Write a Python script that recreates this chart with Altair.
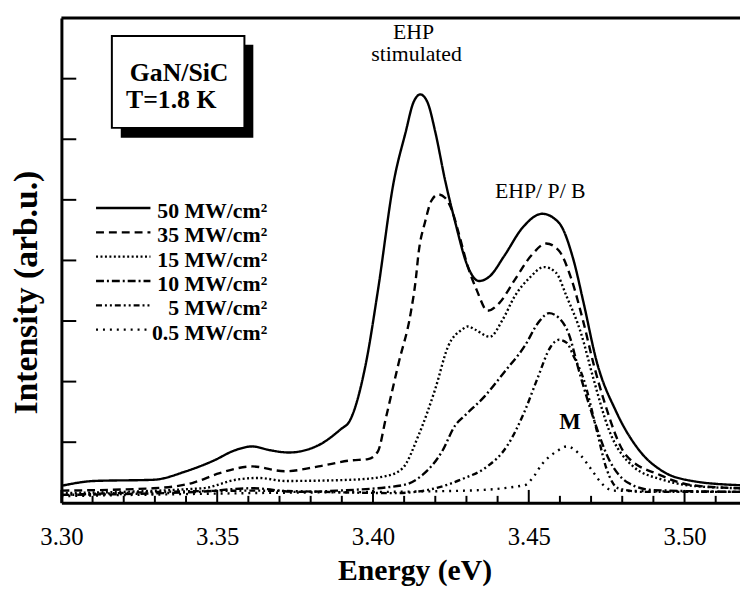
import altair as alt
import pandas as pd

FONT = "Liberation Serif"

SERIES = ["50 MW/cm²", "35 MW/cm²", "15 MW/cm²", "10 MW/cm²", "5 MW/cm²", "0.5 MW/cm²"]

e50 = [3.300, 3.3105, 3.3295, 3.340, 3.3486, 3.3559, 3.3613, 3.3667, 3.373, 3.3825, 3.3898, 3.3924,
       3.3978, 3.4016, 3.4067, 3.4105, 3.413, 3.4152, 3.4175, 3.420, 3.4232, 3.4263, 3.4305, 3.434,
       3.4375, 3.4422, 3.448, 3.4543, 3.4597, 3.4644, 3.4676, 3.4717, 3.4781, 3.4857, 3.493,
       3.5025, 3.5178]
i50 = [0.28, 0.36, 0.38, 0.52, 0.69, 0.87, 0.93, 0.87, 0.83, 0.95, 1.22, 1.34,
       2.32, 3.51, 5.31, 6.12, 6.61, 6.74, 6.61, 6.12, 5.31, 4.65, 3.89, 3.66,
       3.74, 4.08, 4.54, 4.77, 4.62, 4.00, 3.30, 2.35, 1.50, 0.85, 0.52,
       0.36, 0.29]

e35 = [3.300, 3.3295, 3.3422, 3.3508, 3.3613, 3.3717, 3.3825, 3.393, 3.3984, 3.4016, 3.4041, 3.4083,
       3.4121, 3.4137, 3.4146, 3.4168, 3.4187, 3.421, 3.4232, 3.4254, 3.4273, 3.4305, 3.4333, 3.4368,
       3.4406, 3.4454, 3.4508, 3.4556, 3.4597, 3.4635, 3.4676, 3.4708, 3.474, 3.4813, 3.492, 3.5025,
       3.5178]
i35 = [0.20, 0.24, 0.33, 0.49, 0.60, 0.52, 0.60, 0.70, 0.72, 0.85, 1.39, 2.32,
       3.13, 3.67, 4.11, 4.65, 4.98, 5.09, 5.03, 4.82, 4.49, 3.89, 3.51, 3.17,
       3.30, 3.67, 4.08, 4.28, 4.16, 3.72, 2.97, 2.29, 1.71, 0.78, 0.46, 0.29,
       0.24]

e15 = [3.300, 3.3454, 3.3559, 3.3635, 3.3717, 3.393, 3.4041, 3.4095, 3.4146, 3.420, 3.4241, 3.4286,
       3.4305, 3.4327, 3.4375, 3.4416, 3.4454, 3.4502, 3.4549, 3.4587, 3.4622, 3.4667, 3.4708, 3.4756,
       3.4835, 3.493, 3.5025, 3.5178]
i15 = [0.16, 0.24, 0.38, 0.41, 0.36, 0.38, 0.44, 0.57, 1.11, 1.88, 2.58, 2.86,
       2.91, 2.86, 2.74, 3.02, 3.40, 3.71, 3.89, 3.80, 3.40, 2.81, 2.04, 1.22,
       0.60, 0.38, 0.28, 0.24]

e10 = [3.300, 3.3438, 3.3613, 3.3756, 3.3883, 3.4095, 3.4159, 3.4222, 3.4263, 3.4295, 3.4359, 3.4422,
       3.4486, 3.4533, 3.4565, 3.4597, 3.4629, 3.466, 3.4708, 3.4756, 3.4819, 3.4898, 3.5178]
i10 = [0.13, 0.18, 0.24, 0.18, 0.20, 0.29, 0.46, 0.85, 1.27, 1.44, 1.76, 2.16,
       2.58, 2.99, 3.13, 3.05, 2.78, 2.20, 1.39, 0.73, 0.33, 0.21, 0.18]

e5 = [3.300, 3.3613, 3.4073, 3.420, 3.4295, 3.4359, 3.4432, 3.4486, 3.4527, 3.4571, 3.4597, 3.4622,
      3.4644, 3.4676, 3.4717, 3.4749, 3.4787, 3.4867, 3.5178]
i5 = [0.13, 0.20, 0.16, 0.24, 0.41, 0.57, 0.95, 1.50, 2.04, 2.58, 2.69, 2.64,
      2.42, 2.04, 1.22, 0.57, 0.24, 0.18, 0.18]

e05 = [3.300, 3.3613, 3.4295, 3.4486, 3.4517, 3.454, 3.459, 3.4622, 3.4667, 3.4698, 3.474, 3.4771, 3.5178]
i05 = [0.11, 0.16, 0.20, 0.29, 0.44, 0.62, 0.85, 0.93, 0.78, 0.57, 0.29, 0.20, 0.18]

MAJOR_TICKS = [3.30, 3.35, 3.40, 3.45, 3.50]
MINOR_TICKS = [3.31, 3.32, 3.33, 3.34, 3.36, 3.37, 3.38, 3.39, 3.41, 3.42, 3.43, 3.44,
               3.46, 3.47, 3.48, 3.49, 3.51]
Y_TICKS = [1, 2, 3, 4, 5, 6, 7]

ANNOT_TEXT = ["EHP", "stimulated", "EHP/ P/ B"]
ANNOT_X = [3.413, 3.414, 3.4537]
ANNOT_Y = [7.66, 7.29, 5.03]
M_TEXT = ["M"]
M_X = [3.4632]
M_Y = [1.22]

BOX_LINES = ["GaN/SiC", "T=1.8 K"]

# ---------------------------------------------------------------
W, H = 686, 490
X_MIN, X_MAX = 3.30, 3.5178
Y_MIN, Y_MAX = 0, 8
PX_X = W / (X_MAX - X_MIN)   # pixels per eV
PX_Y = H / (Y_MAX - Y_MIN)   # pixels per intensity unit

rows = []
for name, xs, ys in zip(SERIES, [e50, e35, e15, e10, e5, e05], [i50, i35, i15, i10, i5, i05]):
    for k, (x, y) in enumerate(zip(xs, ys)):
        rows.append({"series": name, "energy": x, "intensity": y, "order": k})
df = pd.DataFrame(rows)

xscale = alt.Scale(domain=[X_MIN, X_MAX], nice=False, zero=False)
yscale = alt.Scale(domain=[Y_MIN, Y_MAX], nice=False, zero=False)

dash_range = [[1, 0], [8, 5], [2, 2.5], [8, 3, 2, 3], [6, 3, 2, 3, 2, 3], [2, 5]]
dash_scale = alt.Scale(domain=SERIES, range=dash_range)

lines = alt.Chart(df).mark_line(color="black", strokeWidth=2.4, interpolate="monotone", clip=True).encode(
    x=alt.X("energy:Q", scale=xscale,
            axis=alt.Axis(values=MAJOR_TICKS, format=".2f", ticks=False, tickSize=0, grid=False,
                          domainWidth=3, domainColor="black",
                          labelFont=FONT, labelFontSize=25, labelColor="black", labelPadding=22,
                          labelFlush=False,
                          title="Energy (eV)", titleFont=FONT, titleFontSize=30, titleFontWeight="bold",
                          titleColor="black", titleBaseline="alphabetic", titleX=357, titleY=78)),
    y=alt.Y("intensity:Q", scale=yscale,
            axis=alt.Axis(labels=False, ticks=False, tickSize=0, grid=False,
                          domainWidth=3, domainColor="black",
                          title="Intensity (arb.u.)", titleFont=FONT, titleFontSize=34,
                          titleFontWeight="bold", titleColor="black", titleAngle=270,
                          titleBaseline="alphabetic", titleAlign="center", titleX=-25, titleY=277)),
    strokeDash=alt.StrokeDash("series:N", sort=SERIES, scale=dash_scale, legend=None),
    order="order:Q",
)

# legend drawn through the same scales (line samples + right-aligned labels)
LEG_X0 = X_MIN + 35 / PX_X
LEG_X1 = X_MIN + 90 / PX_X
LEG_TXT_X = X_MIN + 208 / PX_X
LEG_TOP = (H - 192) / PX_Y
LEG_STEP = 24.6 / PX_Y
LEG_TXT_DROP = 10 / PX_Y
leg_df = pd.DataFrame({
    "series": SERIES,
    "x0": [LEG_X0] * len(SERIES),
    "x1": [LEG_X1] * len(SERIES),
    "xt": [LEG_TXT_X] * len(SERIES),
    "y": [LEG_TOP - i * LEG_STEP for i in range(len(SERIES))],
    "yt": [LEG_TOP - i * LEG_STEP - LEG_TXT_DROP for i in range(len(SERIES))],
})
leg_lines = alt.Chart(leg_df).mark_rule(color="black", strokeWidth=2.4).encode(
    x=alt.X("x0:Q", scale=xscale), x2="x1:Q", y=alt.Y("y:Q", scale=yscale),
    strokeDash=alt.StrokeDash("series:N", scale=dash_scale, legend=None))
leg_text = alt.Chart(leg_df).mark_text(font=FONT, fontSize=22, fontWeight="bold", color="black",
                                       align="right", baseline="alphabetic").encode(
    x=alt.X("xt:Q", scale=xscale), y=alt.Y("yt:Q", scale=yscale), text="series:N")

# inward tick marks, drawn through the scales
major_df = pd.DataFrame({"v": MAJOR_TICKS})
minor_df = pd.DataFrame({"v": MINOR_TICKS})
ytick_df = pd.DataFrame({"v": Y_TICKS})
MAJOR_LEN = 13 / PX_Y
MINOR_LEN = 7 / PX_Y
YTICK_LEN = 15 / PX_X

major_ticks = alt.Chart(major_df).mark_rule(color="black", strokeWidth=2).encode(
    x=alt.X("v:Q", scale=xscale), y=alt.datum(Y_MIN), y2=alt.datum(Y_MIN + MAJOR_LEN))
minor_ticks = alt.Chart(minor_df).mark_rule(color="black", strokeWidth=2).encode(
    x=alt.X("v:Q", scale=xscale), y=alt.datum(Y_MIN), y2=alt.datum(Y_MIN + MINOR_LEN))
y_ticks = alt.Chart(ytick_df).mark_rule(color="black", strokeWidth=2).encode(
    y=alt.Y("v:Q", scale=yscale), x=alt.datum(X_MIN), x2=alt.datum(X_MIN + YTICK_LEN))

top_line = alt.Chart(pd.DataFrame({"a": [X_MIN], "b": [X_MAX], "y": [Y_MAX]})).mark_rule(
    color="black", strokeWidth=3).encode(
    x=alt.X("a:Q", scale=xscale), x2="b:Q", y=alt.Y("y:Q", scale=yscale))

# annotations
ann_df = pd.DataFrame({"t": ANNOT_TEXT, "x": ANNOT_X, "y": ANNOT_Y})
annots = alt.Chart(ann_df).mark_text(font=FONT, fontSize=22, color="black", align="center",
                                     baseline="alphabetic").encode(
    x=alt.X("x:Q", scale=xscale), y=alt.Y("y:Q", scale=yscale), text="t:N")
m_df = pd.DataFrame({"t": M_TEXT, "x": M_X, "y": M_Y})
m_label = alt.Chart(m_df).mark_text(font=FONT, fontSize=23, fontWeight="bold", color="black",
                                    align="center", baseline="alphabetic").encode(
    x=alt.X("x:Q", scale=xscale), y=alt.Y("y:Q", scale=yscale), text="t:N")

# boxed sample label with drop shadow
one = pd.DataFrame({"k": [0]})
shadow = alt.Chart(one).mark_rect(color="black").encode(
    x=alt.value(60), x2=alt.value(194), y=alt.value(27), y2=alt.value(121))
box = alt.Chart(one).mark_rect(fill="white", stroke="black", strokeWidth=2).encode(
    x=alt.value(51), x2=alt.value(185), y=alt.value(18), y2=alt.value(111))
box_t1 = alt.Chart(one).mark_text(font=FONT, fontSize=26, fontWeight="bold", color="black",
                                  align="center", baseline="alphabetic", text=BOX_LINES[0]).encode(
    x=alt.value(119), y=alt.value(64))
box_t2 = alt.Chart(one).mark_text(font=FONT, fontSize=26, fontWeight="bold", color="black",
                                  align="center", baseline="alphabetic", text=BOX_LINES[1]).encode(
    x=alt.value(111), y=alt.value(91))

chart = alt.layer(
    lines, leg_lines, leg_text, major_ticks, minor_ticks, y_ticks, top_line, annots, m_label,
    shadow, box, box_t1, box_t2
).properties(
    width=W, height=H,
    autosize=alt.AutoSizeParams(type="none"),
    padding={"left": 54, "top": 7, "right": 0, "bottom": 87},
    background="white",
).configure(font=FONT).configure_view(stroke=None).configure_axis(
    labelFont=FONT, titleFont=FONT
).configure_axisX(labelFont=FONT)

chart.save("out.html", embed_options={"renderer": "svg", "actions": False})
